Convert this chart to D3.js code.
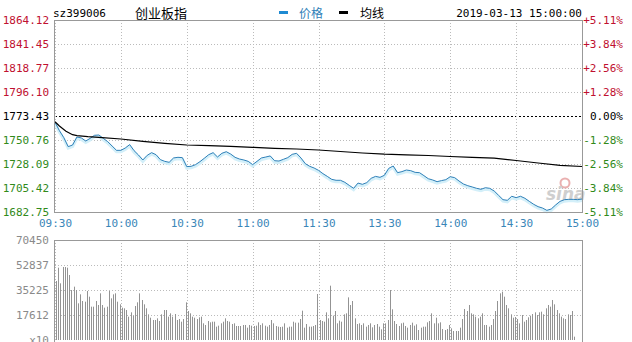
<!DOCTYPE html>
<html>
<head>
<meta charset="utf-8">
<script src="https://cdn.jsdelivr.net/npm/d3@7"></script>
<style>
body { margin: 0; background: #fff; }
text { font-family: "DejaVu Sans Mono", monospace; font-size: 11px; }
</style>
</head>
<body>
<script>
var width = 632
var height = 342

// data
var code = "sz399006"
var title = "创业板指"
var stamp = "2019-03-13 15:00:00"
var basePrice = 1773.43

var priceTicks = [1864.12, 1841.45, 1818.77, 1796.10, 1773.43, 1750.76, 1728.09, 1705.42, 1682.75]
var pctLabels = ["+5.11%", "+3.84%", "+2.56%", "+1.28%", "0.00%", "-1.28%", "-2.56%", "-3.84%", "-5.11%"]
var timeTicks = [0, 30, 60, 90, 120, 150, 180, 210, 240]
var timeLabels = ["09:30", "10:00", "10:30", "11:00", "11:30", "13:30", "14:00", "14:30", "15:00"]
var volTicks = [70450, 52837, 35225, 17612, 0]
var volLabels = ["70450", "52837", "35225", "17612", "x10"]

// price, one value every 2 minutes from 09:30
var prices = [
  1767.5, 1759.6, 1753.0, 1744.5, 1746.0, 1753.6, 1752.7, 1749.8, 1752.3, 1755.2,
  1755.5, 1752.3, 1749.2, 1745.1, 1741.0, 1741.0, 1743.2, 1746.4, 1740.7, 1736.6,
  1731.9, 1736.3, 1738.8, 1736.9, 1732.2, 1730.6, 1729.7, 1733.8, 1734.4, 1734.1,
  1725.6, 1725.9, 1727.5, 1730.3, 1733.5, 1736.9, 1738.8, 1734.7, 1738.2, 1739.7,
  1737.5, 1734.4, 1732.8, 1731.9, 1730.6, 1727.5, 1730.6, 1733.8, 1734.7, 1735.7,
  1731.2, 1730.9, 1732.5, 1734.1, 1737.2, 1738.2, 1733.8, 1728.4, 1725.9, 1724.3,
  1722.1, 1719.0, 1716.4, 1713.6, 1712.7, 1712.7, 1710.8, 1707.9, 1705.1, 1710.1,
  1708.9, 1710.5, 1714.6, 1716.4, 1715.5, 1717.4, 1724.0, 1726.2, 1719.9, 1720.9,
  1722.4, 1721.8, 1720.2, 1719.9, 1717.1, 1714.2, 1713.0, 1711.4, 1712.4, 1713.3,
  1716.1, 1715.2, 1712.0, 1709.2, 1707.6, 1706.4, 1705.1, 1704.2, 1705.7, 1705.1,
  1702.6, 1698.5, 1694.4, 1693.8, 1697.6, 1696.3, 1697.6, 1695.7, 1692.8, 1690.0,
  1687.8, 1686.5, 1684.3, 1685.6, 1689.4, 1692.8, 1694.4, 1694.7, 1694.7, 1694.4,
  1695.0
]

// average line
var avgMinutes = [0, 2, 5, 8, 10, 15, 20, 30, 40, 50, 60, 70, 80, 90, 100, 110, 120, 130, 140, 150, 160, 170, 180, 190, 200, 210, 220, 230, 240]
var avgPrices = [1768.05, 1763.99, 1758.98, 1755.77, 1754.83, 1753.88, 1753.31, 1751.71, 1749.54, 1747.65,
  1746.04, 1745.47, 1744.81, 1743.87, 1742.92, 1742.26, 1741.32, 1739.90, 1738.48, 1737.35,
  1736.78, 1736.12, 1735.18, 1734.42, 1733.57, 1731.40, 1729.04, 1726.86, 1725.73]

// volume, one bar per minute
var volumes = [
  41560, 50950, 39920, 51420, 51420, 50950, 45790, 35220, 37570, 35220,
  25830, 32170, 27470, 27000, 34520, 30520, 23480, 23480, 27470, 24650,
  32870, 24650, 22780, 23480, 34520, 29350, 32170, 32870, 27000, 25120,
  22780, 22310, 21130, 16440, 19490, 17140, 23950, 26530, 32870, 28180,
  25120, 22310, 18080, 15730, 14090, 14090, 15260, 13380, 18080, 21130,
  21130, 16440, 18780, 16440, 18310, 14090, 14790, 12910, 14790, 26530,
  20430, 18780, 16440, 15730, 14790, 15970, 16440, 11740, 10570, 13380,
  12440, 12910, 12910, 9390, 10100, 11740, 12910, 15260, 13380, 12910,
  11270, 11740, 9860, 9860, 9860, 10570, 10570, 8690, 10570, 10100,
  9860, 10100, 12440, 10570, 11740, 10100, 9390, 10570, 14090, 11740,
  9860, 9390, 9160, 9390, 11740, 8690, 9390, 9390, 12910, 12210,
  12210, 14790, 20660, 8690, 11270, 9390, 9390, 9860, 10570, 32400,
  14090, 13380, 12910, 19490, 15260, 38270, 17140, 20430, 11740, 13620,
  12910, 18080, 18780, 30050, 24650, 27470, 15260, 11270, 11740, 10570,
  11740, 9390, 10570, 11740, 8920, 10570, 11270, 9390, 7510, 11740,
  11740, 14090, 35220, 21600, 13380, 11270, 9860, 11740, 12210, 9860,
  8690, 10570, 12210, 10100, 11040, 7040, 8690, 9390, 9390, 12440,
  13380, 18780, 11740, 15730, 11740, 12440, 7750, 7040, 7750, 10570,
  8220, 6340, 6340, 6340, 8690, 14790, 21840, 20430, 24650, 18780,
  18080, 16440, 15260, 16440, 18780, 10570, 10570, 9390, 10570, 14790,
  20430, 27470, 32870, 34050, 30520, 24650, 22310, 18080, 15730, 16200,
  14790, 11740, 17610, 12910, 14090, 15970, 17140, 18310, 19490, 17610,
  19490, 19960, 18080, 22310, 24650, 23480, 28180, 25120, 21130, 18780,
  16440, 15260, 14790, 18080, 17610, 20430, 2350
]

var red = "#c01030"
var green = "#318a1a"
var blue = "#2f80b8"
var frameColor = "#999"
var gridColor = "#bbb"

var svg = d3.select("body")
            .append("svg")
            .attr("width", width)
            .attr("height", height)

var left = 55, right = 582
var x = d3.scaleLinear().domain([0, 240]).range([left, right])
var y = d3.scaleLinear().domain([1682.75, 1864.12]).range([212, 20])
var yv = d3.scaleLinear().domain([0, 70450]).range([340, 240])

function labelColor(i) {
  if (i < 4) return red
  if (i == 4) return "#000"
  return green
}

// ---- header
svg.append("text").attr("x", 53).attr("y", 17).text(code)
svg.append("text").attr("x", 135).attr("y", 18)
  .style("font-family", "'Noto Sans CJK SC'").style("font-size", "13px")
  .text(title)
svg.append("rect").attr("x", 279).attr("y", 11).attr("width", 9).attr("height", 3).attr("fill", "#1e8ad2")
svg.append("text").attr("x", 299).attr("y", 18)
  .style("font-family", "'Noto Sans CJK SC'").style("font-size", "12px")
  .attr("fill", blue).text("价格")
svg.append("rect").attr("x", 339).attr("y", 11).attr("width", 9).attr("height", 3).attr("fill", "#000")
svg.append("text").attr("x", 360).attr("y", 18)
  .style("font-family", "'Noto Sans CJK SC'").style("font-size", "12px")
  .text("均线")
svg.append("text").attr("x", 582).attr("y", 17).attr("text-anchor", "end").text(stamp)

// ---- price panel grid
var gp = svg.append("g")

gp.selectAll("line.hgrid")
  .data(priceTicks)
  .enter()
  .append("line")
  .attr("x1", left).attr("x2", right)
  .attr("y1", function(d){ return Math.round(y(d)) + 0.5 })
  .attr("y2", function(d){ return Math.round(y(d)) + 0.5 })
  .attr("stroke", function(d){ return d == basePrice ? "#000" : gridColor })
  .attr("stroke-dasharray", function(d){ return d == basePrice ? "2,2" : "1,2" })

gp.selectAll("line.vgrid")
  .data(timeTicks)
  .enter()
  .append("line")
  .attr("x1", function(d){ return Math.round(x(d)) + 0.5 })
  .attr("x2", function(d){ return Math.round(x(d)) + 0.5 })
  .attr("y1", 20).attr("y2", 212)
  .attr("stroke", gridColor)
  .attr("stroke-dasharray", "1,2")

// left price labels
var leftAxis = d3.axisLeft(y).tickValues(priceTicks).tickSize(0).tickPadding(5)
  .tickFormat(function(d){ return d.toFixed(2) })
var la = svg.append("g").attr("transform", "translate(" + (left - 1) + ",0)").call(leftAxis)
la.select(".domain").remove()
la.selectAll("text")
  .style("font-family", "'DejaVu Sans Mono'").style("font-size", "11px")
  .attr("fill", function(d, i){ return labelColor(i) })

// right percent labels
var rightAxis = d3.axisRight(y).tickValues(priceTicks).tickSize(0).tickPadding(0)
  .tickFormat(function(d, i){ return pctLabels[i] })
var ra = svg.append("g").attr("transform", "translate(623,0)").call(rightAxis)
ra.select(".domain").remove()
ra.selectAll("text")
  .attr("text-anchor", "end")
  .style("font-family", "'DejaVu Sans Mono'").style("font-size", "11px")
  .attr("fill", function(d, i){ return labelColor(i) })

// time labels
var timeAxis = d3.axisBottom(x).tickValues(timeTicks).tickSize(0).tickPadding(7)
  .tickFormat(function(d, i){ return timeLabels[i] })
var ta = svg.append("g").attr("transform", "translate(0,212)").call(timeAxis)
ta.select(".domain").remove()
ta.selectAll("text")
  .style("font-family", "'DejaVu Sans Mono'").style("font-size", "11px")
  .attr("fill", "#3a86b8")

// watermark
svg.append("circle").attr("cx", 565).attr("cy", 183).attr("r", 4.5)
  .attr("fill", "none").attr("stroke", "#eab0b0").attr("stroke-width", 2)
svg.append("text").attr("x", 546).attr("y", 200)
  .style("font-family", "'DejaVu Sans'").style("font-size", "17px")
  .style("font-style", "italic").style("font-weight", "bold")
  .attr("fill", "#cfcfcf").text("sina")

// price + average lines
var priceLine = d3.line()
  .x(function(d, i){ return x(i * 2) })
  .y(function(d){ return y(d) })

svg.append("path")
  .datum(prices)
  .attr("d", priceLine)
  .attr("transform", "translate(0,1.5)")
  .attr("fill", "none")
  .attr("stroke", "#d3eff9")
  .attr("stroke-width", 3)

svg.append("path")
  .datum(prices)
  .attr("d", priceLine)
  .attr("fill", "none")
  .attr("stroke", blue)
  .attr("stroke-width", 1)

var avgLine = d3.line()
  .x(function(d, i){ return x(avgMinutes[i]) })
  .y(function(d){ return y(d) })

svg.append("path")
  .datum(avgPrices)
  .attr("d", avgLine)
  .attr("fill", "none")
  .attr("stroke", "#000")
  .attr("stroke-width", 1.2)

// price frame
svg.append("rect")
  .attr("x", left - 0.5).attr("y", 20.5)
  .attr("width", right - left + 1).attr("height", 192)
  .attr("fill", "none").attr("stroke", frameColor)

// ---- volume panel
var gv = svg.append("g")

gv.selectAll("line.vh")
  .data(volTicks.slice(1, 4))
  .enter()
  .append("line")
  .attr("x1", left).attr("x2", right)
  .attr("y1", function(d){ return Math.round(yv(d)) + 0.5 })
  .attr("y2", function(d){ return Math.round(yv(d)) + 0.5 })
  .attr("stroke", gridColor)
  .attr("stroke-dasharray", "1,2")

gv.selectAll("line.vv")
  .data(timeTicks)
  .enter()
  .append("line")
  .attr("x1", function(d){ return Math.round(x(d)) + 0.5 })
  .attr("x2", function(d){ return Math.round(x(d)) + 0.5 })
  .attr("y1", 240).attr("y2", 342)
  .attr("stroke", gridColor)
  .attr("stroke-dasharray", "1,2")

gv.selectAll("line.bar")
  .data(volumes)
  .enter()
  .append("line")
  .attr("x1", function(d, i){ return Math.round(x(i)) + 1.5 })
  .attr("x2", function(d, i){ return Math.round(x(i)) + 1.5 })
  .attr("y1", yv(0))
  .attr("y2", function(d){ return yv(d) })
  .attr("stroke", "#939393")
  .attr("stroke-width", 1)

var volAxis = d3.axisLeft(yv).tickValues(volTicks).tickSize(0).tickPadding(5)
  .tickFormat(function(d, i){ return volLabels[i] })
var va = svg.append("g").attr("transform", "translate(" + (left - 1) + ",0)").call(volAxis)
va.select(".domain").remove()
va.selectAll("text")
  .style("font-family", "'DejaVu Sans Mono'").style("font-size", "11px")
  .attr("fill", "#8a8a8a")

svg.append("rect")
  .attr("x", left - 0.5).attr("y", 240.5)
  .attr("width", right - left + 1).attr("height", 110)
  .attr("fill", "none").attr("stroke", frameColor)
</script>
</body>
</html>
